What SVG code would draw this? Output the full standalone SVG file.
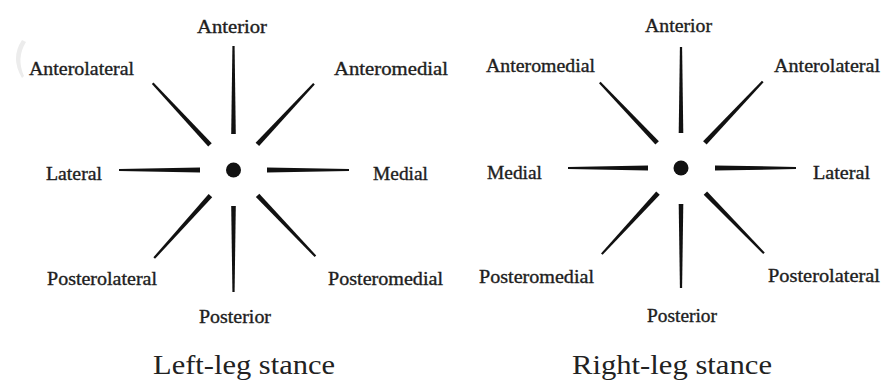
<svg xmlns="http://www.w3.org/2000/svg" width="882" height="382" viewBox="0 0 882 382">
<style>
.lbl{font-family:"Liberation Serif","Times New Roman",serif;font-size:18px;fill:#1e1e1e;stroke:#1e1e1e;stroke-width:0.35}
.ttl{font-family:"Liberation Serif","Times New Roman",serif;font-size:27px;fill:#222}
.spoke{fill:#111}
.dot{fill:#111}
</style>
<rect width="882" height="382" fill="#ffffff"/>
<path d="M22,40 Q10,58 22,78 L24,76 Q16,58 26,42 Z" fill="#ececec"/>
<g id="connectors">
  <g id="left-spokes" transform="translate(233.5,170)">
    <polygon class="spoke" points="36,-2.3 124,-1.1 124,1.1 36,2.3" transform="rotate(-90)"/>
    <polygon class="spoke" points="35,-2.4 118,-1.1 118,1.1 35,2.4" transform="rotate(-47)"/>
    <polygon class="spoke" points="33.5,-2.5 115.5,-1.1 115.5,1.1 33.5,2.5" transform="rotate(0)"/>
    <polygon class="spoke" points="35,-2.4 119,-1.1 119,1.1 35,2.4" transform="rotate(46.5)"/>
    <polygon class="spoke" points="36,-2.3 122,-1.1 122,1.1 36,2.3" transform="rotate(90)"/>
    <polygon class="spoke" points="34.5,-2.4 118.5,-1.1 118.5,1.1 34.5,2.4" transform="rotate(132)"/>
    <polygon class="spoke" points="33.5,-2.5 114.5,-1.1 114.5,1.1 33.5,2.5" transform="rotate(180)"/>
    <polygon class="spoke" points="34.5,-2.4 118.5,-1.1 118.5,1.1 34.5,2.4" transform="rotate(-133)"/>
  </g>
  <g id="right-spokes" transform="translate(681,168)">
    <polygon class="spoke" points="35,-2.3 121,-1.1 121,1.1 35,2.3" transform="rotate(-90)"/>
    <polygon class="spoke" points="34.7,-2.4 119,-1.1 119,1.1 34.7,2.4" transform="rotate(-46.6)"/>
    <polygon class="spoke" points="34,-2.5 115,-1.1 115,1.1 34,2.5" transform="rotate(0)"/>
    <polygon class="spoke" points="35,-2.4 119,-1.1 119,1.1 35,2.4" transform="rotate(45.8)"/>
    <polygon class="spoke" points="36,-2.3 120,-1.1 120,1.1 36,2.3" transform="rotate(90)"/>
    <polygon class="spoke" points="34,-2.4 117,-1.1 117,1.1 34,2.4" transform="rotate(132.6)"/>
    <polygon class="spoke" points="33,-2.5 113,-1.1 113,1.1 33,2.5" transform="rotate(180)"/>
    <polygon class="spoke" points="34.7,-2.4 118,-1.1 118,1.1 34.7,2.4" transform="rotate(-133.5)"/>
  </g>
</g>
<g id="left-diagram">
  <g id="left-center"><circle class="dot" cx="233.5" cy="170" r="7.5"/></g>
  <g id="left-anterior"><text class="lbl" x="197" y="33" textLength="70" lengthAdjust="spacingAndGlyphs">Anterior</text></g>
  <g id="left-anterolateral"><text class="lbl" x="29" y="75" textLength="105" lengthAdjust="spacingAndGlyphs">Anterolateral</text></g>
  <g id="left-anteromedial"><text class="lbl" x="334" y="75" textLength="114" lengthAdjust="spacingAndGlyphs">Anteromedial</text></g>
  <g id="left-lateral"><text class="lbl" x="46" y="180" textLength="56" lengthAdjust="spacingAndGlyphs">Lateral</text></g>
  <g id="left-medial"><text class="lbl" x="373" y="180" textLength="55" lengthAdjust="spacingAndGlyphs">Medial</text></g>
  <g id="left-posterolateral"><text class="lbl" x="47" y="285" textLength="110" lengthAdjust="spacingAndGlyphs">Posterolateral</text></g>
  <g id="left-posteromedial"><text class="lbl" x="328" y="285" textLength="115" lengthAdjust="spacingAndGlyphs">Posteromedial</text></g>
  <g id="left-posterior"><text class="lbl" x="199" y="323" textLength="72" lengthAdjust="spacingAndGlyphs">Posterior</text></g>
  <g id="left-title"><text class="ttl" x="153" y="374" textLength="182" lengthAdjust="spacingAndGlyphs">Left-leg stance</text></g>
</g>
<g id="right-diagram">
  <g id="right-center"><circle class="dot" cx="681" cy="168" r="7.5"/></g>
  <g id="right-anterior"><text class="lbl" x="645" y="32" textLength="67" lengthAdjust="spacingAndGlyphs">Anterior</text></g>
  <g id="right-anteromedial"><text class="lbl" x="486" y="72" textLength="109" lengthAdjust="spacingAndGlyphs">Anteromedial</text></g>
  <g id="right-anterolateral"><text class="lbl" x="774" y="72" textLength="106" lengthAdjust="spacingAndGlyphs">Anterolateral</text></g>
  <g id="right-medial"><text class="lbl" x="487" y="179" textLength="55" lengthAdjust="spacingAndGlyphs">Medial</text></g>
  <g id="right-lateral"><text class="lbl" x="813" y="179" textLength="57" lengthAdjust="spacingAndGlyphs">Lateral</text></g>
  <g id="right-posteromedial"><text class="lbl" x="479" y="283" textLength="115" lengthAdjust="spacingAndGlyphs">Posteromedial</text></g>
  <g id="right-posterolateral"><text class="lbl" x="768" y="282" textLength="112" lengthAdjust="spacingAndGlyphs">Posterolateral</text></g>
  <g id="right-posterior"><text class="lbl" x="647" y="322" textLength="70" lengthAdjust="spacingAndGlyphs">Posterior</text></g>
  <g id="right-title"><text class="ttl" x="572" y="374" textLength="200" lengthAdjust="spacingAndGlyphs">Right-leg stance</text></g>
</g>
</svg>
